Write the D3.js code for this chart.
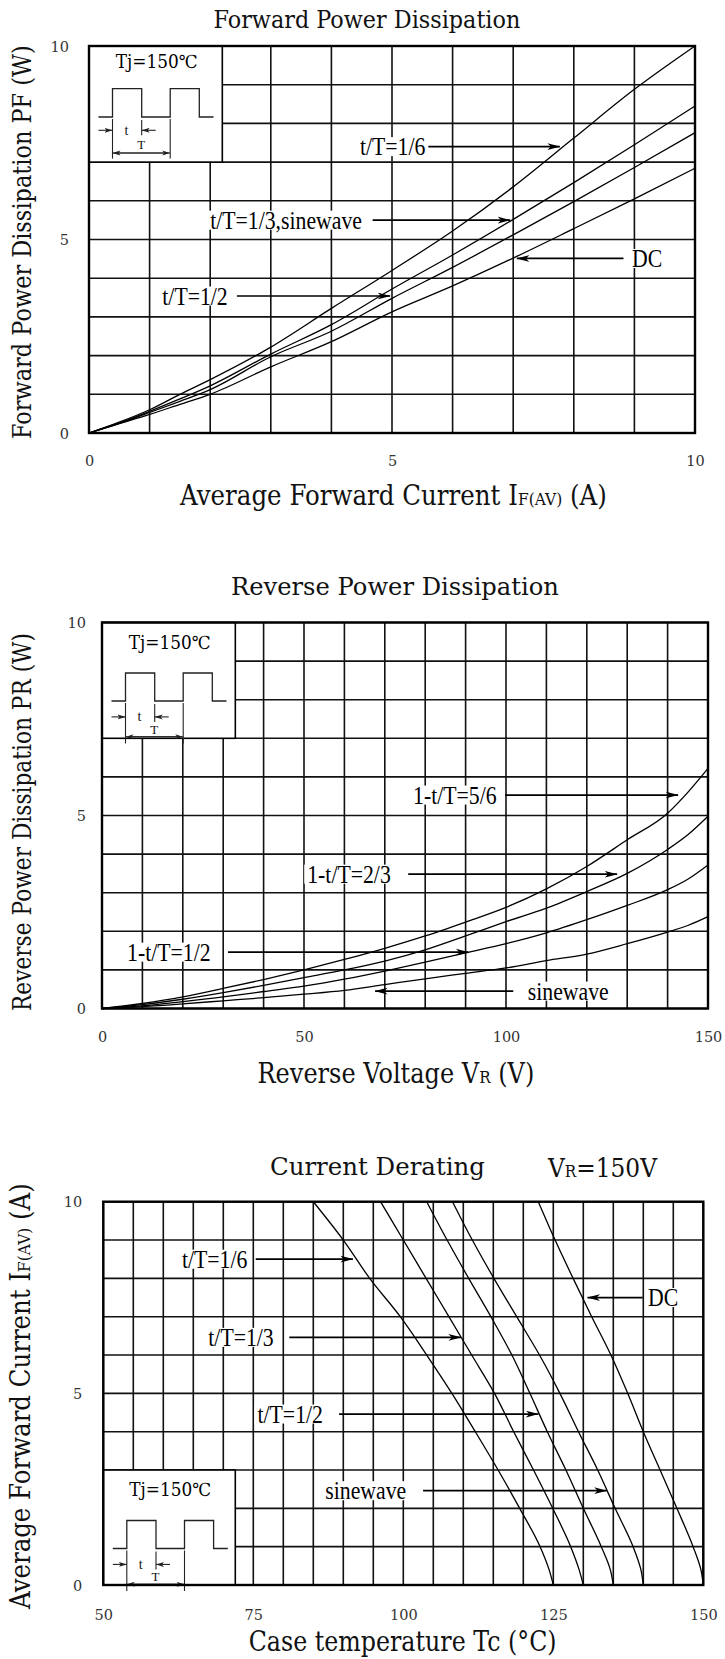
<!DOCTYPE html>
<html><head><meta charset="utf-8">
<script src="https://cdn.jsdelivr.net/npm/d3@7"></script>
<style>body{margin:0;background:#fff}</style>
</head><body>
<svg id="c" width="725" height="1659" xmlns="http://www.w3.org/2000/svg"></svg>
<script>
// ================= DATA =================
// Chart 1 : Forward Power Dissipation (x = IF(AV) in A, y = PF in W)
const fwdCurrent = [0, 0.5, 1, 1.5, 2, 3, 4, 5, 6, 7, 8, 9, 10];
const fwdT6      = [0, 0.28, 0.60, 1.00, 1.38, 2.22, 3.22, 4.20, 5.22, 6.36, 7.62, 8.88, 10.0];
const fwdT3Sine  = [0, 0.26, 0.56, 0.88, 1.22, 2.04, 2.80, 3.72, 4.60, 5.52, 6.47, 7.45, 8.45];
const fwdT2      = [0, 0.25, 0.53, 0.82, 1.12, 1.97, 2.63, 3.48, 4.28, 5.12, 5.98, 6.86, 7.76];
const fwdDC      = [0, 0.24, 0.48, 0.74, 1.00, 1.71, 2.36, 3.13, 3.80, 4.52, 5.28, 6.05, 6.84];
const fwdXTicks = [0, 5, 10];
const fwdYTicks = [0, 5, 10];

// Chart 2 : Reverse Power Dissipation (x = VR in V, y = PR in W)
const revVoltage = [0, 10, 20, 30, 40, 50, 60, 70, 80, 90, 100, 110, 120, 130, 140, 145, 150];
const rev56   = [0, 0.13, 0.30, 0.52, 0.75, 1.00, 1.27, 1.56, 1.88, 2.24, 2.62, 3.10, 3.68, 4.37, 5.06, 5.60, 6.22];
const rev23   = [0, 0.10, 0.24, 0.41, 0.60, 0.80, 1.00, 1.23, 1.52, 1.88, 2.25, 2.60, 3.03, 3.50, 4.12, 4.50, 4.98];
const rev12   = [0, 0.07, 0.18, 0.30, 0.44, 0.58, 0.76, 0.97, 1.20, 1.44, 1.68, 1.96, 2.30, 2.67, 3.08, 3.35, 3.72];
const revSine = [0, 0.05, 0.12, 0.20, 0.28, 0.37, 0.47, 0.62, 0.77, 0.91, 1.05, 1.24, 1.41, 1.68, 1.98, 2.15, 2.38];
const revXTicks = [0, 50, 100, 150];
const revYTicks = [0, 5, 10];

// Chart 3 : Current Derating (x = Tc in °C, y = IF(AV) in A)
const derCurrent = [10, 9, 8, 7, 6, 5, 4, 3, 2, 1, 0.4, 0];
const derT6   = [85.0, 90.0, 94.4, 99.5, 103.9, 108.1, 112.0, 115.8, 119.4, 122.8, 124.3, 125.0];
const derT3   = [96.2, 100.0, 103.8, 107.6, 111.4, 115.2, 118.4, 121.7, 124.9, 127.9, 129.3, 130.0];
const derT2   = [103.9, 107.3, 110.9, 114.6, 118.1, 121.1, 124.0, 127.1, 130.0, 133.0, 134.5, 135.0];
const derSine = [108.2, 111.5, 115.1, 118.9, 122.7, 126.1, 129.2, 132.4, 135.3, 138.3, 139.6, 140.0];
const derDC   = [122.5, 125.3, 128.3, 131.4, 134.6, 137.4, 140.0, 142.8, 145.6, 148.3, 149.6, 150.0];
const derXTicks = [50, 75, 100, 125, 150];
const derYTicks = [0, 5, 10];

// Annotation labels (data units): text start x, arrow y, arrow from x -> to x
const fwdLabels = [
  {text: 't/T=1/6',          tx: 4.47, y: 7.40, a0: 5.60, a1: 7.77},
  {text: 't/T=1/3,sinewave', tx: 2.00, y: 5.50, a0: 4.68, a1: 6.95},
  {text: 'DC',               tx: 8.96, y: 4.51, a0: 8.82, a1: 7.06},
  {text: 't/T=1/2',          tx: 1.21, y: 3.54, a0: 2.44, a1: 4.97}
];
const revLabels = [
  {text: '1-t/T=5/6', tx: 77.0,  y: 5.53, a0: 99.8,  a1: 142.6},
  {text: '1-t/T=2/3', tx: 50.8,  y: 3.48, a0: 75.8,  a1: 127.5},
  {text: '1-t/T=1/2', tx: 6.2,   y: 1.46, a0: 31.2,  a1: 90.7},
  {text: 'sinewave',  tx: 105.4, y: 0.45, a0: 101.8, a1: 67.6}
];
const derLabels = [
  {text: 't/T=1/6',  tx: 63.1,  y: 8.50, a0: 75.4,  a1: 91.6},
  {text: 't/T=1/3',  tx: 67.5,  y: 6.46, a0: 81.0,  a1: 109.6},
  {text: 't/T=1/2',  tx: 75.7,  y: 4.46, a0: 89.3,  a1: 122.5},
  {text: 'sinewave', tx: 87.0,  y: 2.46, a0: 103.3, a1: 133.9},
  {text: 'DC',       tx: 140.8, y: 7.50, a0: 139.9, a1: 130.7}
];

// ================= DRAWING =================
const SERIF = "'DejaVu Serif', 'Liberation Serif', serif";
const TIMES = "'Liberation Serif', 'Times New Roman', serif";
const svg = d3.select('#c');
svg.append('rect').attr('width', 725).attr('height', 1659).attr('fill', '#fff');
const defs = svg.append('defs');
defs.append('marker').attr('id', 'ah')
  .attr('viewBox', '0 0 13 8').attr('refX', 12.5).attr('refY', 4)
  .attr('markerWidth', 13).attr('markerHeight', 8)
  .attr('markerUnits', 'userSpaceOnUse').attr('orient', 'auto')
  .append('path').attr('d', 'M0,0.6 L13,4 L0,7.4 L3.5,4 Z').attr('fill', '#000');
defs.append('marker').attr('id', 'ahs')
  .attr('viewBox', '0 0 8 6').attr('refX', 8).attr('refY', 3)
  .attr('markerWidth', 8).attr('markerHeight', 6)
  .attr('markerUnits', 'userSpaceOnUse').attr('orient', 'auto')
  .append('path').attr('d', 'M0,0.5 L8,3 L0,5.5 L2,3 Z').attr('fill', '#222');

// Text made of parts (font-size per part), horizontally scaled to a target length
function addText(g, parts, opts) {
  const t = g.append('text')
    .attr('font-family', opts.font || SERIF)
    .attr('fill', opts.fill || '#111')
    .attr('x', 0).attr('y', 0).attr('text-anchor', 'start');
  parts.forEach(p => t.append('tspan').attr('font-size', p[1]).text(p[0]));
  const w = t.node().getComputedTextLength();
  const sx = opts.len ? opts.len / w : 1;
  const shift = (opts.anchor === 'start') ? 0 : -w * sx / 2;
  if (opts.rotate) {
    t.attr('transform', `translate(${opts.x},${opts.y}) rotate(-90) translate(${shift},0) scale(${sx},1)`);
  } else {
    t.attr('transform', `translate(${opts.x + shift},${opts.y}) scale(${sx},1)`);
  }
  return t;
}

function drawChart(cfg) {
  const g = svg.append('g');
  const x = d3.scaleLinear().domain(cfg.xDomain).range([cfg.box.l, cfg.box.r]);
  const y = d3.scaleLinear().domain(cfg.yDomain).range([cfg.box.b, cfg.box.t]);

  const gGrid = g.append('g'), gCurves = g.append('g'), gBg = g.append('g'),
        gLab = g.append('g'), gInset = g.append('g'), gFrame = g.append('g'), gAxes = g.append('g');

  // grid
  const xg = d3.range(cfg.xDomain[0], cfg.xDomain[1] + 1e-9, cfg.xStep);
  const yg = d3.range(cfg.yDomain[0], cfg.yDomain[1] + 1e-9, cfg.yStep);
  gGrid.selectAll('line.v').data(xg).join('line').attr('class', 'v')
    .attr('x1', d => x(d)).attr('x2', d => x(d))
    .attr('y1', y(cfg.yDomain[0])).attr('y2', y(cfg.yDomain[1]))
    .attr('stroke', '#111').attr('stroke-width', 1.6);
  gGrid.selectAll('line.h').data(yg).join('line').attr('class', 'h')
    .attr('y1', d => y(d)).attr('y2', d => y(d))
    .attr('x1', x(cfg.xDomain[0])).attr('x2', x(cfg.xDomain[1]))
    .attr('stroke', '#111').attr('stroke-width', 1.6);

  // curves
  const line = d3.line().x(d => x(d[0])).y(d => y(d[1]))
    .curve(cfg.vertical ? d3.curveMonotoneY : d3.curveMonotoneX);
  cfg.series.forEach(s => {
    let pts = s.xs.map((v, i) => [v, s.ys[i]]);
    if (cfg.vertical) pts = pts.slice().sort((a, b) => a[1] - b[1]);
    gCurves.append('path').datum(pts).attr('d', line)
      .attr('fill', 'none').attr('stroke', '#000').attr('stroke-width', 1.3);
  });

  // labels with arrows
  cfg.labels.forEach(L => {
    const ay = y(L.y);
    const t = gLab.append('text').attr('x', x(L.tx)).attr('y', ay + 8.5)
      .attr('font-family', TIMES).attr('font-size', 25).attr('fill', '#000').text(L.text);
    const w = t.node().getComputedTextLength() * 0.87;
    t.attr('textLength', w).attr('lengthAdjust', 'spacingAndGlyphs');
    gBg.append('rect').attr('x', x(L.tx) - 3).attr('y', ay - 9.5)
      .attr('width', w + 6).attr('height', 19).attr('fill', '#fff');
    gLab.append('line').attr('x1', x(L.a0)).attr('x2', x(L.a1))
      .attr('y1', ay).attr('y2', ay)
      .attr('stroke', '#000').attr('stroke-width', 1.7).attr('marker-end', 'url(#ah)');
  });

  // inset
  const o = cfg.inset;
  const bw = 0.22 * (x.range()[1] - x.range()[0]);
  const bh = 0.30 * (y.range()[0] - y.range()[1]);
  const bx = x.range()[0];
  const by = o.atBottom ? y.range()[0] - bh : y.range()[1];
  gInset.append('rect').attr('x', bx).attr('y', by).attr('width', bw).attr('height', bh)
    .attr('fill', '#fff').attr('stroke', '#000').attr('stroke-width', 1.6);
  addText(gInset, [['Tj=150℃', 18]], {x: bx + bw / 2 + 1, y: by + o.text, len: 82, fill: '#000'});
  const wx = [9.5, 23.5, 52.7, 81.2, 110.3, 124.5].map(v => bx + v);
  const wave = [[wx[0], o.low], [wx[1], o.low], [wx[1], o.high], [wx[2], o.high], [wx[2], o.low],
                [wx[3], o.low], [wx[3], o.high], [wx[4], o.high], [wx[4], o.low], [wx[5], o.low]]
               .map(p => [p[0], by + p[1]]);
  gInset.append('path').attr('d', d3.line()(wave)).attr('fill', 'none')
    .attr('stroke', '#222').attr('stroke-width', 1.3);
  const seg = (x1, y1, x2, y2, marker) => {
    const l = gInset.append('line').attr('x1', x1).attr('y1', y1).attr('x2', x2).attr('y2', y2)
      .attr('stroke', '#222').attr('stroke-width', 1.1);
    if (marker) l.attr('marker-end', 'url(#ahs)');
    return l;
  };
  seg(wx[1], by + o.low + 2, wx[1], by + o.ext);
  seg(wx[3], by + o.low + 2, wx[3], by + o.ext);
  seg(wx[2], by + o.low + 3, wx[2], by + o.tArrow + 5);
  seg(wx[0], by + o.tArrow, wx[1], by + o.tArrow, true);
  seg(wx[2] + 14, by + o.tArrow, wx[2], by + o.tArrow, true);
  addText(gInset, [['t', 14]], {x: bx + 37.5, y: by + o.tArrow + 4.5, font: TIMES});
  addText(gInset, [['T', 13]], {x: wx[2] - 0.5, y: by + o.tBase, font: TIMES});
  seg(wx[1] + 4, by + o.dim, wx[3], by + o.dim, true);
  seg(wx[3] - 4, by + o.dim, wx[1], by + o.dim, true);

  // frame
  gFrame.append('rect').attr('x', cfg.box.l).attr('y', cfg.box.t)
    .attr('width', cfg.box.r - cfg.box.l).attr('height', cfg.box.b - cfg.box.t)
    .attr('fill', 'none').attr('stroke', '#000').attr('stroke-width', 2.4);

  // axes tick labels
  const ax = gAxes.append('g').attr('transform', `translate(0,${cfg.box.b})`)
    .call(d3.axisBottom(x).tickValues(cfg.xTicks).tickSize(0).tickFormat(d3.format('d')));
  ax.select('.domain').remove();
  ax.selectAll('text').attr('y', cfg.xTickOff).attr('dy', '0.36em');
  const ay = gAxes.append('g').attr('transform', `translate(${cfg.box.l},0)`)
    .call(d3.axisLeft(y).tickValues(cfg.yTicks).tickSize(0).tickPadding(cfg.yTickPad).tickFormat(d3.format('d')));
  ay.select('.domain').remove();
  ay.selectAll('text').attr('dy', '0.36em');
  gAxes.selectAll('text').attr('font-family', SERIF).attr('font-size', 14.5).attr('fill', '#333');

  // titles
  const T = cfg.titles;
  addText(g, [[T.title[0], T.title[1]]], {x: T.title[2], y: T.title[3], len: T.title[4]});
  addText(g, T.xParts, {x: T.xPos[0], y: T.xPos[1], len: T.xPos[2]});
  addText(g, T.yParts, {x: T.yPos[0], y: T.yPos[1], len: T.yPos[2], rotate: true});
  if (T.extra) addText(g, T.extra.parts, {x: T.extra.x, y: T.extra.y, len: T.extra.len, anchor: 'start'});
}

const insetTop = {text: 22, high: 42.6, low: 71, tArrow: 84.3, tBase: 103, dim: 107, ext: 112.6};
const insetStd = {text: 26, high: 50.5, low: 78.5, tArrow: 94.4, tBase: 111, dim: 114.3, ext: 121};

drawChart({
  xDomain: [0, 10], yDomain: [0, 10], xStep: 1, yStep: 1,
  box: {l: 89, r: 695, t: 46, b: 433},
  series: [fwdT6, fwdT3Sine, fwdT2, fwdDC].map(ys => ({xs: fwdCurrent, ys})),
  labels: fwdLabels, xTicks: fwdXTicks, yTicks: fwdYTicks,
  xTickOff: 28, yTickPad: 20,
  inset: insetTop,
  titles: {
    title: ['Forward Power Dissipation', 24, 367, 28, 307],
    xParts: [['Average Forward Current I', 27], ['F(AV)', 17], [' (A)', 27]], xPos: [393.5, 505, 427],
    yParts: [['Forward Power Dissipation PF (W)', 26]], yPos: [31, 242, 394]
  }
});

drawChart({
  xDomain: [0, 150], yDomain: [0, 10], xStep: 10, yStep: 1,
  box: {l: 102, r: 708, t: 622.5, b: 1008.5},
  series: [rev56, rev23, rev12, revSine].map(ys => ({xs: revVoltage, ys})),
  labels: revLabels, xTicks: revXTicks, yTicks: revYTicks,
  xTickOff: 28, yTickPad: 16,
  inset: insetStd,
  titles: {
    title: ['Reverse Power Dissipation', 24, 395, 595, 328],
    xParts: [['Reverse Voltage V', 27], ['R', 17], [' (V)', 27]], xPos: [396, 1083, 277],
    yParts: [['Reverse Power Dissipation PR (W)', 26]], yPos: [31, 822, 378]
  }
});

drawChart({
  xDomain: [50, 150], yDomain: [0, 10], xStep: 5, yStep: 1, vertical: true,
  box: {l: 103.3, r: 703.3, t: 1201.7, b: 1585},
  series: [derT6, derT3, derT2, derSine, derDC].map(xs => ({xs, ys: derCurrent})),
  labels: derLabels, xTicks: derXTicks, yTicks: derYTicks,
  xTickOff: 30, yTickPad: 21,
  inset: Object.assign({atBottom: true}, insetStd),
  titles: {
    title: ['Current Derating', 25, 377.5, 1175, 215],
    xParts: [['Case temperature Tc (°C)', 27]], xPos: [402.7, 1651, 308],
    yParts: [['Average Forward Current I', 27], ['F(AV)', 17], [' (A)', 27]], yPos: [30, 1396, 426],
    extra: {parts: [['V', 26], ['R', 17], ['=150V', 26]], x: 548, y: 1177, len: 109}
  }
});
</script>
</body></html>
